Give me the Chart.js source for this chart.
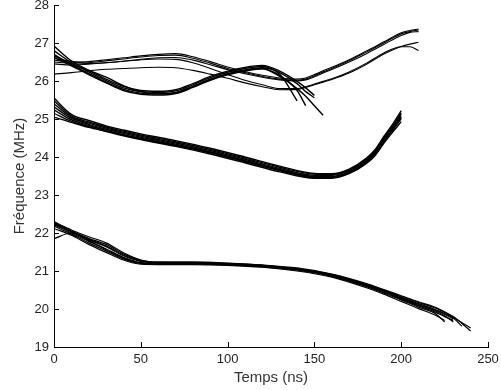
<!DOCTYPE html>
<html>
<head>
<meta charset="utf-8">
<script src="https://cdn.jsdelivr.net/npm/chart.js@4"></script>
<style>
  html, body { margin: 0; padding: 0; background: #fff; }
  #wrap { width: 501px; height: 390px; }
</style>
</head>
<body>
<div id="wrap"><canvas id="courbes" width="501" height="390"></canvas></div>
<script>
// abscisses (ns) de chaque famille de courbes
const xBas = [0,10,20,30,40,50,60,80,100,120,140,160,180,190,200,210,220,225,230,235,240];
const xMil = [0,10,20,30,40,50,70,90,110,130,150,160,170,180,185,190,195,200];
const xHaut = [0,10,20,30,40,50,60,70,80,90,100,110,120,130,140,145,150,155,160,170,180,190,200,205,210];

// famille du bas (~21 MHz)
const bas1 = [22.30,22.06,21.86,21.70,21.45,21.28,21.24,21.24,21.21,21.16,21.08,20.92,20.67,20.51,20.35,20.19,20.04,19.93,19.80,19.62,19.42];
const bas2 = [22.26,22.03,21.82,21.64,21.40,21.25,21.22,21.22,21.19,21.14,21.06,20.90,20.64,20.48,20.31,20.14,19.98,19.88,19.76,19.55,null];
const bas3 = [22.22,22.00,21.78,21.58,21.36,21.22,21.20,21.20,21.18,21.13,21.04,20.88,20.62,20.46,20.28,20.10,19.94,19.82,19.66,null,null];
const bas4 = [22.18,21.97,21.74,21.53,21.32,21.20,21.18,21.19,21.16,21.11,21.02,20.86,20.59,20.42,20.24,20.05,19.87,19.66,null,null,null];
const bas5 = [22.12,21.94,21.70,21.49,21.29,21.18,21.17,21.17,21.15,21.10,21.00,20.84,20.56,20.39,20.20,20.01,19.83,19.70,null,null,null];
const bas6 = [21.85,22.00,21.80,21.56,21.34,21.21,21.19,21.20,21.18,21.12,21.04,20.87,20.61,20.44,20.26,20.08,19.91,19.80,19.70,null,null];
const bas7 = [22.28,22.08,21.90,21.74,21.48,21.29,21.23,21.22,21.20,21.15,21.06,20.91,20.65,20.50,20.33,20.17,20.02,19.91,19.78,19.64,19.50];
const bas8 = [22.24,22.04,21.84,21.66,21.42,21.26,21.21,21.21,21.18,21.13,21.05,20.89,20.63,20.47,20.30,20.12,19.96,19.86,19.74,null,null];

// famille du milieu (~24 MHz)
const mil1 = [25.55,25.12,24.96,24.82,24.71,24.61,24.43,24.23,24.00,23.76,23.57,23.56,23.68,23.97,24.20,24.54,24.86,25.22];
const mil2 = [25.48,25.08,24.92,24.79,24.68,24.58,24.40,24.20,23.97,23.73,23.55,23.54,23.66,23.94,24.16,24.50,24.81,25.16];
const mil3 = [25.40,25.05,24.89,24.76,24.65,24.55,24.37,24.17,23.94,23.70,23.52,23.52,23.64,23.92,24.14,24.47,24.78,25.12];
const mil4 = [25.32,25.02,24.86,24.73,24.62,24.52,24.34,24.14,23.91,23.67,23.49,23.49,23.61,23.89,24.11,24.44,24.74,25.07];
const mil5 = [25.24,24.98,24.83,24.70,24.59,24.49,24.31,24.11,23.88,23.64,23.46,23.46,23.58,23.86,24.07,24.40,24.70,25.01];
const mil6 = [25.15,24.94,24.80,24.67,24.56,24.46,24.28,24.08,23.85,23.61,23.44,23.44,23.56,23.83,24.04,24.36,24.65,24.93];
const mil7 = [25.05,24.91,24.78,24.68,24.58,24.48,24.31,24.12,23.89,23.65,23.48,23.48,23.60,23.87,24.09,24.42,24.72,25.04];

// famille du haut (~26 MHz)
const hautA1 = [26.92,26.53,26.28,26.05,25.86,25.75,25.73,25.77,25.93,26.12,26.26,26.36,26.41,26.26,25.99,25.82,25.62];
const hautA2 = [26.80,26.48,26.24,26.01,25.82,25.72,25.70,25.74,25.90,26.09,26.23,26.33,26.38,26.22,25.93,25.72,25.56];
const hautA3 = [26.70,26.43,26.20,25.97,25.78,25.68,25.66,25.70,25.86,26.05,26.19,26.29,26.35,26.18,25.48];
const hautA4 = [26.62,26.40,26.17,25.95,25.75,25.65,25.63,25.67,25.83,26.02,26.16,26.26,26.32,26.15,25.75,25.35];
const hautA5 = [26.66,26.45,26.28,26.10,25.88,25.72,25.66,25.69,25.85,26.04,26.18,26.28,26.33,26.12,25.80,25.60,25.35,25.10];
const hautB1 = [26.55,26.50,26.51,26.56,26.61,26.66,26.70,26.72,26.64,26.51,26.37,26.25,26.15,26.08,26.05,26.08,26.17,26.27,26.36,26.56,26.79,27.03,27.27,27.33,27.37];
const hautB2 = [26.50,26.47,26.48,26.53,26.58,26.63,26.67,26.68,26.60,26.47,26.33,26.22,26.12,26.05,26.02,26.05,26.14,26.24,26.33,26.53,26.76,27.00,27.24,27.30,27.34];
const hautB3 = [26.60,26.52,26.46,26.48,26.52,26.57,26.61,26.62,26.55,26.43,26.30,26.19,26.10,26.03,26.00,26.03,26.11,26.21,26.30,26.50,26.72,26.96,27.20,27.28,27.30];
const hautC1 = [26.18,26.22,26.27,26.31,26.33,26.35,26.36,26.35,26.28,26.18,26.07,25.95,25.85,25.77,25.78,25.83,25.90,25.97,26.04,26.21,26.44,26.71,26.91,26.97,27.02];
const hautC2 = [26.45,26.42,26.44,26.48,26.52,26.56,26.58,26.57,26.48,26.33,26.17,26.02,25.90,25.80,25.80,25.85,25.92,25.99,26.06,26.24,26.47,26.74,26.90,26.90,26.80];

const ticksX = [0,50,100,150,200,250];
const ticksY = [19,20,21,22,23,24,25,26,27,28];

function courbe(xs, ys, epais) {
  return {
    data: ys.map((y, i) => ({ x: xs[i], y: y })),
    borderColor: '#000',
    borderWidth: epais,
    pointRadius: 0,
    fill: false,
    cubicInterpolationMode: 'monotone'
  };
}

const datasets = [];
[bas1, bas2, bas3, bas4, bas5, bas6, bas7, bas8].forEach(c => datasets.push(courbe(xBas, c, 1.2)));
[mil1, mil2, mil3, mil4, mil5, mil6, mil7].forEach(c => datasets.push(courbe(xMil, c, 1.4)));
[hautA1, hautA2, hautA3, hautA4, hautA5].forEach(c => datasets.push(courbe(xHaut, c, 1.4)));
[hautB1, hautB2, hautB3, hautC1, hautC2].forEach(c => datasets.push(courbe(xHaut, c, 1.1)));

// petits traits de graduation vers l'intérieur (style matlab)
const graduations = {
  id: 'graduations',
  afterDraw(chart) {
    const ctx = chart.ctx;
    const sx = chart.scales.x, sy = chart.scales.y;
    const a = chart.chartArea;
    ctx.save();
    ctx.strokeStyle = '#000';
    ctx.lineWidth = 1;
    ctx.beginPath();
    ticksX.forEach(v => {
      const p = Math.round(sx.getPixelForValue(v)) + 0.5;
      ctx.moveTo(p, a.bottom);
      ctx.lineTo(p, a.bottom - 5);
    });
    ticksY.forEach(v => {
      const p = Math.round(sy.getPixelForValue(v)) + 0.5;
      ctx.moveTo(a.left, p);
      ctx.lineTo(a.left + 5, p);
    });
    ctx.stroke();
    ctx.restore();
  }
};

const police = "Arial, 'Liberation Sans', sans-serif";

new Chart(document.getElementById('courbes').getContext('2d'), {
  type: 'line',
  data: { datasets: datasets },
  options: {
    responsive: false,
    animation: false,
    events: [],
    layout: { padding: { left: 0, right: 13, top: 5, bottom: 0 } },
    plugins: { legend: { display: false }, tooltip: { enabled: false } },
    scales: {
      x: {
        type: 'linear',
        min: 0,
        max: 250,
        afterBuildTicks: s => { s.ticks = ticksX.map(v => ({ value: v })); },
        afterFit: s => { s.height = 43; s.paddingLeft = 0; s.paddingRight = 0; },
        grid: { display: true, drawOnChartArea: false, drawTicks: false },
        border: { display: true, color: '#000', width: 1 },
        ticks: { color: '#222', font: { family: police, size: 13 }, padding: 5, maxRotation: 0 },
        title: { display: true, text: 'Temps (ns)', color: '#333', font: { family: police, size: 15 }, padding: { top: 0, bottom: 3 } }
      },
      y: {
        min: 19,
        max: 28,
        afterBuildTicks: s => { s.ticks = ticksY.map(v => ({ value: v })); },
        afterFit: s => { s.width = 54; s.paddingTop = 0; s.paddingBottom = 0; },
        grid: { display: true, drawOnChartArea: false, drawTicks: false },
        border: { display: true, color: '#000', width: 1 },
        ticks: { color: '#222', font: { family: police, size: 13 }, padding: 5 },
        title: { display: true, text: 'Fréquence (MHz)', color: '#333', font: { family: police, size: 15 }, padding: { top: 11, bottom: 0 } }
      }
    }
  },
  plugins: [graduations]
});
</script>
</body>
</html>
